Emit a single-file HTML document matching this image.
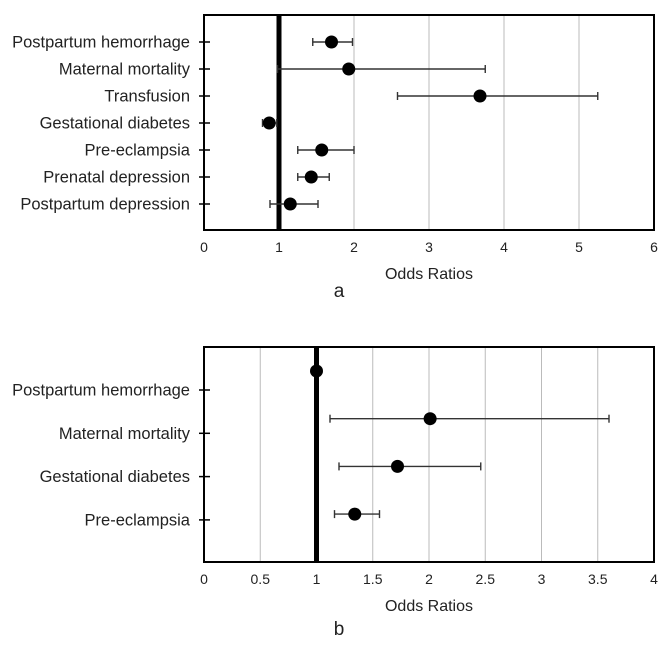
<!DOCTYPE html>
<html><head><meta charset="utf-8"><style>
body{margin:0;background:#fff;width:669px;height:651px;overflow:hidden;font-family:"Liberation Sans",sans-serif}
svg text{font-family:"Liberation Sans",sans-serif;fill:#222}
</style></head><body>
<svg id="s" width="669" height="651"></svg>
<script>
const catsA=["Postpartum hemorrhage","Maternal mortality","Transfusion","Gestational diabetes","Pre-eclampsia","Prenatal depression","Postpartum depression"];
const orA=[1.7,1.93,3.68,0.87,1.57,1.43,1.15];
const loA=[1.45,0.98,2.58,0.78,1.25,1.25,0.88];
const hiA=[1.98,3.75,5.25,0.97,2.0,1.67,1.52];
const ticksA=[0,1,2,3,4,5,6];
const catsB=["Postpartum hemorrhage","Maternal mortality","Gestational diabetes","Pre-eclampsia"];
const orB=[1.0,2.01,1.72,1.34];
const loB=[0.99,1.12,1.2,1.16];
const hiB=[1.01,3.6,2.46,1.56];
const ticksB=[0,0.5,1,1.5,2,2.5,3,3.5,4];
const NS="http://www.w3.org/2000/svg";
const s=document.getElementById('s');
function el(t,a,txt){const e=document.createElementNS(NS,t);for(const k in a)e.setAttribute(k,a[k]);if(txt!==undefined)e.textContent=txt;s.appendChild(e);return e;}
function panel(cfg){
 const {cats,or,lo,hi,ticks,x0,x1,top,bot,max,ptY,tickY,label,labY,prefix}=cfg;
 const X=v=>x0+(x1-x0)*v/max;
 ticks.forEach(t=>{
  if(t>0&&t<max){const g=el('line',{x1:X(t),x2:X(t),y1:top,y2:bot,stroke:'#bbb','stroke-width':1});
  
  }
  const tl=el('text',{x:X(t),y:bot+22,'text-anchor':'middle','font-size':14},String(t));
  
  
 });
 const fr=el('rect',{x:x0,y:top,width:x1-x0,height:bot-top,fill:'none',stroke:'#000','stroke-width':2});
 
 
 const ref=el('line',{x1:X(1),x2:X(1),y1:top,y2:bot,stroke:'#000','stroke-width':5});
 
 
 cats.forEach((c,i)=>{
  const ty=tickY(i);
  const tk=el('line',{x1:x0-5,x2:x0+6,y1:ty,y2:ty,stroke:'#000','stroke-width':1.5});
  
  
  const lb=el('text',{x:x0-14,y:ty+5.5,'text-anchor':'end','font-size':16.5},c);
  
  
  const py=ptY(i);
  const e1=el('line',{x1:X(lo[i]),x2:X(hi[i]),y1:py,y2:py,stroke:'#333','stroke-width':1.4});
  
  
  [lo[i],hi[i]].forEach(v=>{const c2=el('line',{x1:X(v),x2:X(v),y1:py-4,y2:py+4,stroke:'#333','stroke-width':1.4});
   
   });
  const p=el('circle',{cx:X(or[i]),cy:py,r:6.5,fill:'#000'});
  
  
 });
 const xt=el('text',{x:(x0+x1)/2,y:bot+49,'text-anchor':'middle','font-size':16},'Odds Ratios');
 
 
 const pl=el('text',{x:(x0+x1)/2-90,y:labY,'text-anchor':'middle','font-size':19},label);
 
 
}
panel({prefix:'panel-a',cats:catsA,or:orA,lo:loA,hi:hiA,ticks:ticksA,x0:204,x1:654,top:15,bot:230,max:6,
 ptY:i=>42+27*i,tickY:i=>42+27*i,label:'a',labY:297});
panel({prefix:'panel-b',cats:catsB,or:orB,lo:loB,hi:hiB,ticks:ticksB,x0:204,x1:654,top:347,bot:562,max:4,
 ptY:i=>371+47.7*i,tickY:i=>390+43.3*i,label:'b',labY:635});
</script>
</body></html>
